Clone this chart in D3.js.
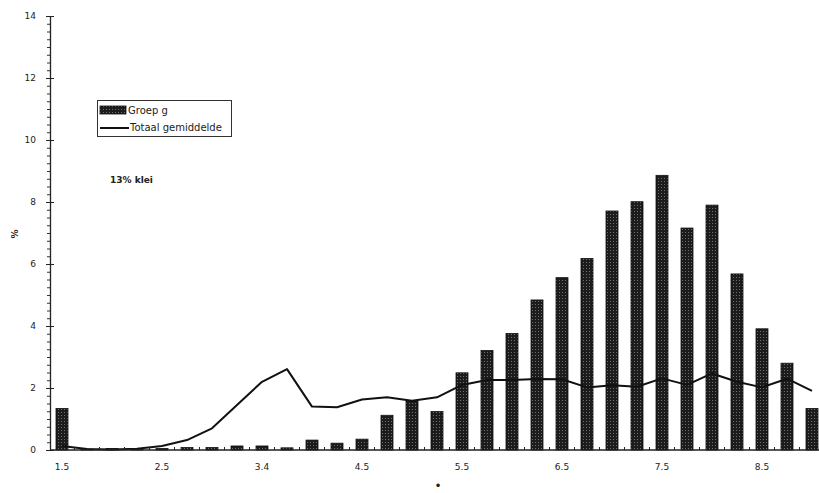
<!DOCTYPE html>
<html>
<head>
<meta charset="utf-8">
<script src="https://cdn.jsdelivr.net/npm/d3@7"></script>
<style>
  html, body { margin: 0; padding: 0; background: #fff; }
  svg { display: block; }
  text { font-family: "DejaVu Sans", Arial, sans-serif; fill: #222; }
</style>
</head>
<body>
<svg id="chart" width="819" height="493"></svg>
<script>
const categories = ["1.5","1.75","2.0","2.25","2.5","2.75","3.0","3.25","3.5","3.75","4.0","4.25","4.5","4.75","5.0","5.25","5.5","5.75","6.0","6.25","6.5","6.75","7.0","7.25","7.5","7.75","8.0","8.25","8.5","8.75","9.0"];
const groepG = [1.34,0.03,0.05,0.05,0.05,0.08,0.08,0.13,0.13,0.07,0.32,0.22,0.35,1.12,1.59,1.24,2.49,3.21,3.76,4.84,5.56,6.18,7.71,8.01,8.86,7.16,7.90,5.68,3.91,2.80,1.34];
const totaal = [0.13,0.03,0.02,0.04,0.13,0.32,0.70,1.45,2.20,2.61,1.40,1.38,1.63,1.70,1.59,1.70,2.10,2.26,2.26,2.29,2.28,2.02,2.09,2.04,2.31,2.10,2.47,2.20,2.02,2.30,1.91];
const xTickCats = ["1.5","2.5","3.5","4.5","5.5","6.5","7.5","8.5"];
const xTickLabels = ["1.5","2.5","3.4","4.5","5.5","6.5","7.5","8.5"];
const yTicks = [0,2,4,6,8,10,12,14];
const seriesNames = ["Groep g","Totaal gemiddelde"];
const annotation = "13% klei";
const yLabel = "%";
const xLabel = "\u2022";

const svg = d3.select("#chart");
const x = d3.scalePoint().domain(categories).range([62, 812]);
const step = x.step();
const y = d3.scaleLinear().domain([0, 14]).range([450, 16]);
const barW = 12;

// pattern for bars
const defs = svg.append("defs");
const pat = defs.append("pattern").attr("id", "dots").attr("patternUnits", "userSpaceOnUse")
  .attr("width", 3).attr("height", 3);
pat.append("rect").attr("width", 3).attr("height", 3).attr("fill", "#1c1c1c");
pat.append("rect").attr("x", 1).attr("y", 1).attr("width", 1).attr("height", 1).attr("fill", "#707070");

// bars
svg.append("g").selectAll("rect").data(groepG).join("rect")
  .attr("x", (d, i) => x(categories[i]) - barW / 2)
  .attr("y", d => y(d))
  .attr("width", barW)
  .attr("height", d => y(0) - y(d))
  .attr("fill", "url(#dots)")
  .attr("stroke", "#111").attr("stroke-width", 0.8);

// line
const line = d3.line().x((d, i) => x(categories[i])).y(d => y(d));
svg.append("path").datum(totaal).attr("d", line)
  .attr("fill", "none").attr("stroke", "#111").attr("stroke-width", 2).attr("stroke-linejoin", "round");

// y axis minor ticks
const yMinor = d3.range(0, 14.001, 0.25);
svg.append("g").attr("transform", "translate(50,0)")
  .call(d3.axisLeft(y).tickValues(yMinor).tickSize(3).tickFormat(""))
  .call(g => g.select(".domain").remove())
  .call(g => g.selectAll("line").attr("stroke", "#333"));
// y axis major
const yAxis = svg.append("g").attr("transform", "translate(50,0)")
  .call(d3.axisLeft(y).tickValues(yTicks).tickSizeInner(-4).tickSizeOuter(0).tickPadding(14).tickFormat(d3.format("d")));
yAxis.select(".domain").attr("stroke", "#222").attr("stroke-width", 1.3);
yAxis.selectAll("line").attr("stroke", "#222").attr("x1", -4).attr("x2", 4);
yAxis.selectAll("text").style("font-size", "9px").attr("fill", "#222");

// x axis
const xAxisG = svg.append("g").attr("transform", "translate(0,450)");
xAxisG.append("line").attr("x1", 50).attr("x2", 819).attr("y1", 0).attr("y2", 0)
  .attr("stroke", "#222").attr("stroke-width", 1.5);
xAxisG.selectAll("line.tk").data(categories).join("line").attr("class", "tk")
  .attr("x1", d => x(d) + step / 2).attr("x2", d => x(d) + step / 2)
  .attr("y1", 0).attr("y2", -3).attr("stroke", "#222");
xAxisG.selectAll("text").data(xTickCats).join("text")
  .attr("x", d => x(d)).attr("y", 20)
  .attr("text-anchor", "middle").style("font-size", "9px")
  .text((d, i) => xTickLabels[i]);

// axis titles
svg.append("text").attr("transform", "translate(18,234) rotate(-90)")
  .attr("text-anchor", "middle").style("font-size", "9px").style("font-weight", "bold").text(yLabel);
svg.append("text").attr("x", 438).attr("y", 486)
  .attr("text-anchor", "middle").attr("dominant-baseline", "central")
  .style("font-size", "12px").text(xLabel);

// legend
const lg = svg.append("g");
lg.append("rect").attr("x", 97.5).attr("y", 100.5).attr("width", 134).attr("height", 36)
  .attr("fill", "#fff").attr("stroke", "#333").attr("stroke-width", 1);
lg.append("rect").attr("x", 100).attr("y", 106).attr("width", 26).attr("height", 8)
  .attr("fill", "url(#dots)").attr("stroke", "#111").attr("stroke-width", 0.8);
lg.append("text").attr("x", 128).attr("y", 114).style("font-size", "10px").text(seriesNames[0]);
lg.append("line").attr("x1", 100).attr("x2", 129).attr("y1", 128).attr("y2", 128)
  .attr("stroke", "#111").attr("stroke-width", 2);
lg.append("text").attr("x", 130).attr("y", 131).style("font-size", "10px").text(seriesNames[1]);

// annotation
svg.append("text").attr("x", 110).attr("y", 183).style("font-size", "9px").style("font-weight", "bold").text(annotation);
</script>
</body>
</html>
